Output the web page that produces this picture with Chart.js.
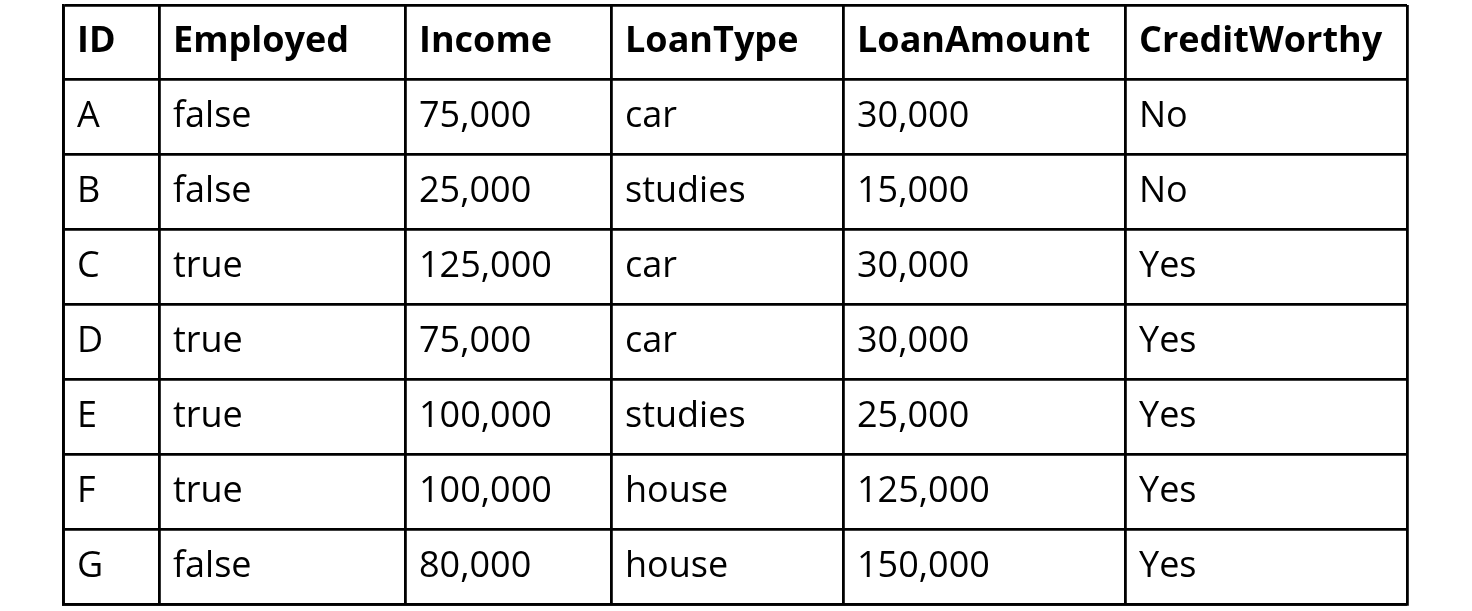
<!DOCTYPE html>
<html>
<head>
<meta charset="utf-8">
<script src="https://cdn.jsdelivr.net/npm/chart.js@4.4.1/dist/chart.umd.min.js"></script>
<style>
    html, body { margin: 0; padding: 0; background: #fff; }
    #wrap { width: 1472px; height: 611px; }
</style>
</head>
<body>
<div id="wrap"><canvas id="tabela"></canvas></div>
<script>
// dados da tabela
const colunas = ['ID', 'Employed', 'Income', 'LoanType', 'LoanAmount', 'CreditWorthy'];
const ids = ['A', 'B', 'C', 'D', 'E', 'F', 'G'];
const employed = ['false', 'false', 'true', 'true', 'true', 'true', 'false'];
const income = [75000, 25000, 125000, 75000, 100000, 100000, 80000];
const loanType = ['car', 'studies', 'car', 'car', 'studies', 'house', 'house'];
const loanAmount = [30000, 15000, 30000, 30000, 25000, 125000, 150000];
const creditWorthy = ['No', 'No', 'Yes', 'Yes', 'Yes', 'Yes', 'Yes'];

// largura de cada coluna (px)
const larguras = [96, 246, 206, 232, 282, 282];

const fmt = v => v.toLocaleString('en-US');
const valores = [ids, employed, income.map(fmt), loanType, loanAmount.map(fmt), creditWorthy];

// bordas das colunas no eixo x
const bordas = [0];
larguras.forEach(l => bordas.push(bordas[bordas.length - 1] + l));
const total = bordas[bordas.length - 1];
const nLinhas = ids.length + 1;

// um dataset por coluna, um ponto por célula
const datasets = colunas.map(function (nome, c) {
    const pontos = [{ x: bordas[c], y: 0.5, t: nome }];
    valores[c].forEach(function (v, i) {
        pontos.push({ x: bordas[c], y: i + 1.5, t: v });
    });
    return { label: nome, data: pontos, pointRadius: 0, pointHoverRadius: 0 };
});

const textoCelulas = {
    id: 'textoCelulas',
    afterDatasetsDraw(chart) {
        const ctx = chart.ctx;
        ctx.save();
        ctx.fillStyle = '#000';
        ctx.textAlign = 'left';
        ctx.textBaseline = 'alphabetic';
        chart.data.datasets.forEach(function (ds, d) {
            const meta = chart.getDatasetMeta(d);
            meta.data.forEach(function (el, i) {
                ctx.font = (i === 0 ? 'bold ' : '') + '36px "Open Sans"';
                ctx.fillText(ds.data[i].t, el.x + 14, el.y + 10);
            });
        });
        ctx.restore();
    }
};

const grade = { color: '#000', lineWidth: 2.8, drawTicks: false };
const borda = { color: '#000', width: 2.8 };

new Chart(document.getElementById('tabela'), {
    type: 'scatter',
    data: { datasets: datasets },
    options: {
        responsive: true,
        maintainAspectRatio: false,
        animation: false,
        layout: { padding: { left: 63, right: 65, top: 5, bottom: 7 } },
        plugins: { legend: { display: false }, tooltip: { enabled: false } },
        events: [],
        scales: {
            x: {
                type: 'linear',
                min: 0,
                max: total,
                afterBuildTicks: function (axis) {
                    axis.ticks = bordas.map(v => ({ value: v }));
                },
                ticks: { display: false },
                grid: grade,
                border: borda
            },
            y: {
                type: 'linear',
                reverse: true,
                min: 0,
                max: nLinhas,
                ticks: { display: false, stepSize: 1 },
                grid: grade,
                border: borda
            }
        }
    },
    plugins: [textoCelulas]
});
</script>
</body>
</html>
